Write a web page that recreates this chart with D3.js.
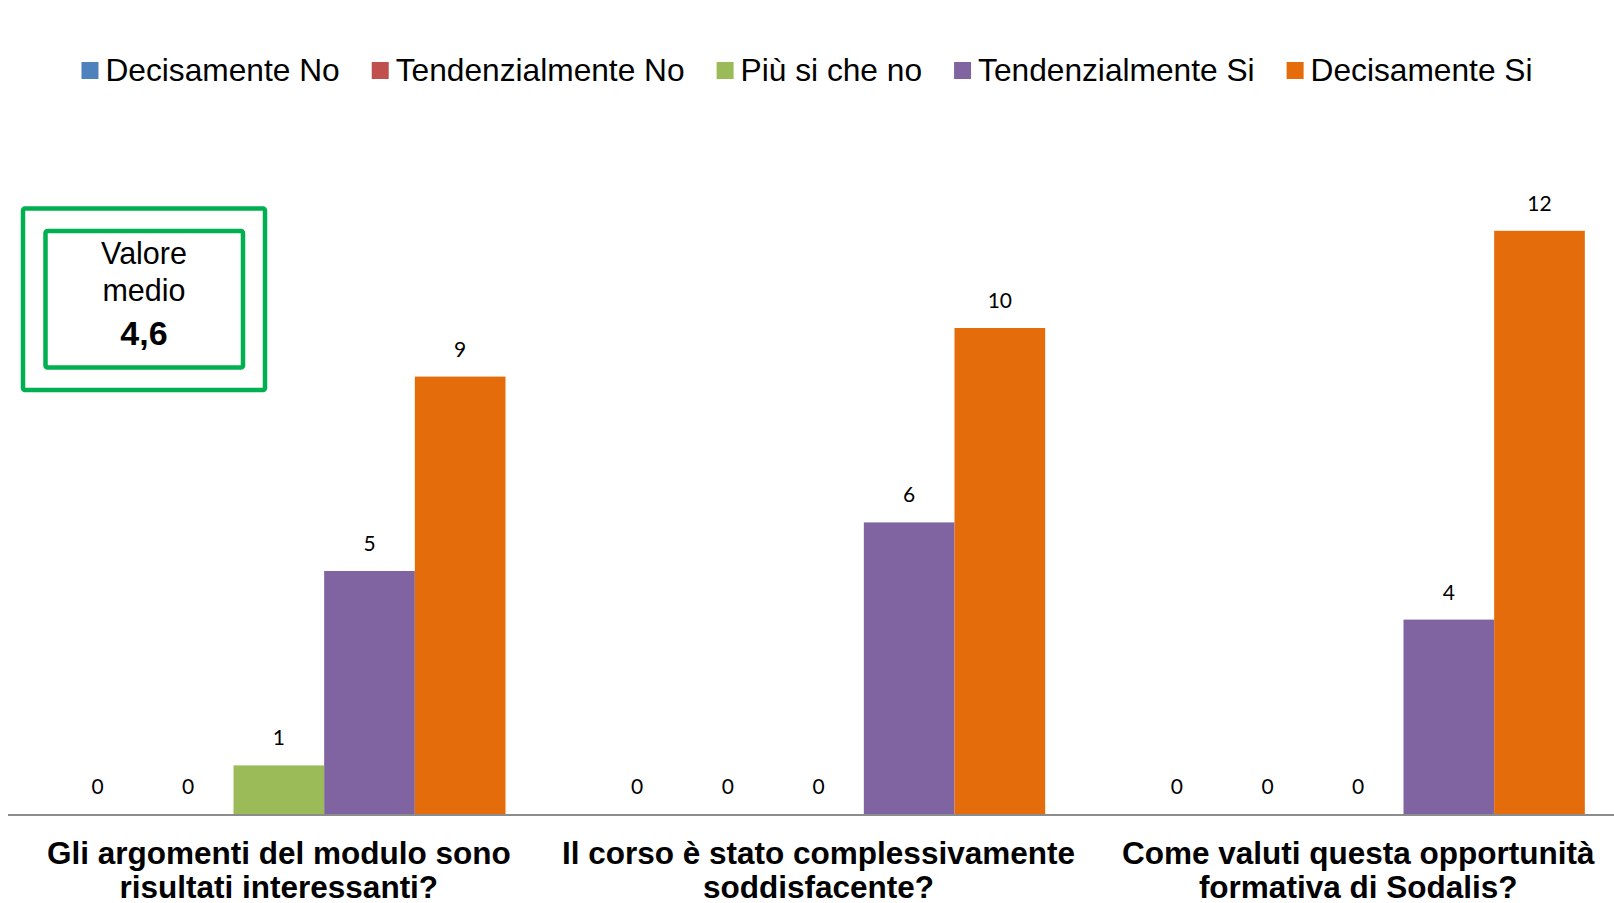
<!DOCTYPE html>
<html>
<head>
<meta charset="utf-8">
<script src="https://cdn.jsdelivr.net/npm/d3@7"></script>
<style>
  html, body { margin: 0; padding: 0; background: #ffffff; }
  svg { display: block; }
</style>
</head>
<body>
<svg id="chart" width="1614" height="903"></svg>
<script>
// Questions (each split over two lines)
const categories = [
  ["Gli argomenti del modulo sono", "risultati interessanti?"],
  ["Il corso è stato complessivamente", "soddisfacente?"],
  ["Come valuti questa opportunità", "formativa di Sodalis?"]
];
const seriesNames = ["Decisamente No", "Tendenzialmente No", "Più si che no", "Tendenzialmente Si", "Decisamente Si"];
const seriesColors = ["#4F81BD", "#C0504D", "#9BBB59", "#8064A2", "#E46C0A"];
// Answers count per question, one array per series
const decisamenteNo      = [0, 0, 0];
const tendenzialmenteNo  = [0, 0, 0];
const piuSiCheNo         = [1, 0, 0];
const tendenzialmenteSi  = [5, 6, 4];
const decisamenteSi      = [9, 10, 12];
const seriesValues = [decisamenteNo, tendenzialmenteNo, piuSiCheNo, tendenzialmenteSi, decisamenteSi];
const averageLabel = ["Valore", "medio"];
const averageValue = "4,6";

const svg = d3.select("#chart");

const baseline = 814;
const y = d3.scaleLinear().domain([0, 14]).range([baseline, baseline - 14 * 48.6]);

const x0 = d3.scaleBand()
  .domain(d3.range(categories.length))
  .range([9, 1628])
  .paddingInner(0.16)
  .paddingOuter(0.08);

const x1 = d3.scaleBand()
  .domain(d3.range(seriesNames.length))
  .range([0, x0.bandwidth()])
  .padding(0);

// Bars
const groups = svg.append("g").selectAll("g")
  .data(categories.map((c, i) => i))
  .join("g")
  .attr("transform", i => `translate(${x0(i)},0)`);

groups.selectAll("rect")
  .data(i => seriesValues.map((vals, s) => ({ s, v: vals[i] })))
  .join("rect")
  .attr("x", d => x1(d.s))
  .attr("width", x1.bandwidth())
  .attr("y", d => y(d.v))
  .attr("height", d => y(0) - y(d.v))
  .attr("fill", d => seriesColors[d.s]);

// Value labels
groups.selectAll("text")
  .data(i => seriesValues.map((vals, s) => ({ s, v: vals[i] })))
  .join("text")
  .attr("x", d => x1(d.s) + x1.bandwidth() / 2)
  .attr("y", d => y(d.v) - 20)
  .attr("text-anchor", "middle")
  .attr("font-family", "Lato, 'Open Sans', sans-serif")
  .attr("font-size", 21)
  .attr("fill", "#000")
  .text(d => d.v);

// Category axis line
svg.append("line")
  .attr("x1", 8).attr("x2", 1614)
  .attr("y1", baseline + 1).attr("y2", baseline + 1)
  .attr("stroke", "#8c8c8c")
  .attr("stroke-width", 2);

// Category labels
const catLabels = svg.append("g").selectAll("text")
  .data(categories)
  .join("text")
  .attr("x", (d, i) => x0(i) + x0.bandwidth() / 2)
  .attr("y", 864)
  .attr("text-anchor", "middle")
  .attr("font-family", "'Liberation Sans', Arial, sans-serif")
  .attr("font-weight", "bold")
  .attr("font-size", 31.5)
  .attr("fill", "#000");
catLabels.selectAll("tspan")
  .data(d => d)
  .join("tspan")
  .attr("x", function () { return d3.select(this.parentNode).attr("x"); })
  .attr("dy", (d, i) => i === 0 ? 0 : 34)
  .text(d => d);

// Legend, centred horizontally
const legend = svg.append("g");
const items = legend.selectAll("g")
  .data(seriesNames)
  .join("g");
items.append("rect")
  .attr("width", 17).attr("height", 17)
  .attr("y", 62)
  .attr("fill", (d, i) => seriesColors[i]);
items.append("text")
  .attr("x", 24)
  .attr("y", 81)
  .attr("font-family", "'Liberation Sans', Arial, sans-serif")
  .attr("font-size", 31.7)
  .attr("fill", "#000")
  .text(d => d);
let cursor = 0;
const offsets = [];
items.each(function () {
  offsets.push(cursor);
  const w = 24 + d3.select(this).select("text").node().getComputedTextLength();
  cursor += w + 32;
});
const totalW = cursor - 32;
const startX = 807 - totalW / 2;
items.attr("transform", (d, i) => `translate(${startX + offsets[i]},0)`);

// Average value box
const box = svg.append("g");
box.append("rect")
  .attr("x", 23).attr("y", 208.5)
  .attr("width", 242).attr("height", 181.5)
  .attr("rx", 2)
  .attr("fill", "#fff")
  .attr("stroke", "#00B050")
  .attr("stroke-width", 4.5);
box.append("rect")
  .attr("x", 45.5).attr("y", 231)
  .attr("width", 197.5).attr("height", 136.5)
  .attr("rx", 2)
  .attr("fill", "#fff")
  .attr("stroke", "#00B050")
  .attr("stroke-width", 4.5);
box.selectAll("text.lbl")
  .data(averageLabel)
  .join("text")
  .attr("class", "lbl")
  .attr("x", 144)
  .attr("y", (d, i) => 264 + i * 37)
  .attr("text-anchor", "middle")
  .attr("font-family", "'Liberation Sans', Arial, sans-serif")
  .attr("font-size", 30.5)
  .attr("fill", "#000")
  .text(d => d);
box.append("text")
  .attr("x", 144)
  .attr("y", 345)
  .attr("text-anchor", "middle")
  .attr("font-family", "'Liberation Sans', Arial, sans-serif")
  .attr("font-weight", "bold")
  .attr("font-size", 34)
  .attr("fill", "#000")
  .text(averageValue);
</script>
</body>
</html>
